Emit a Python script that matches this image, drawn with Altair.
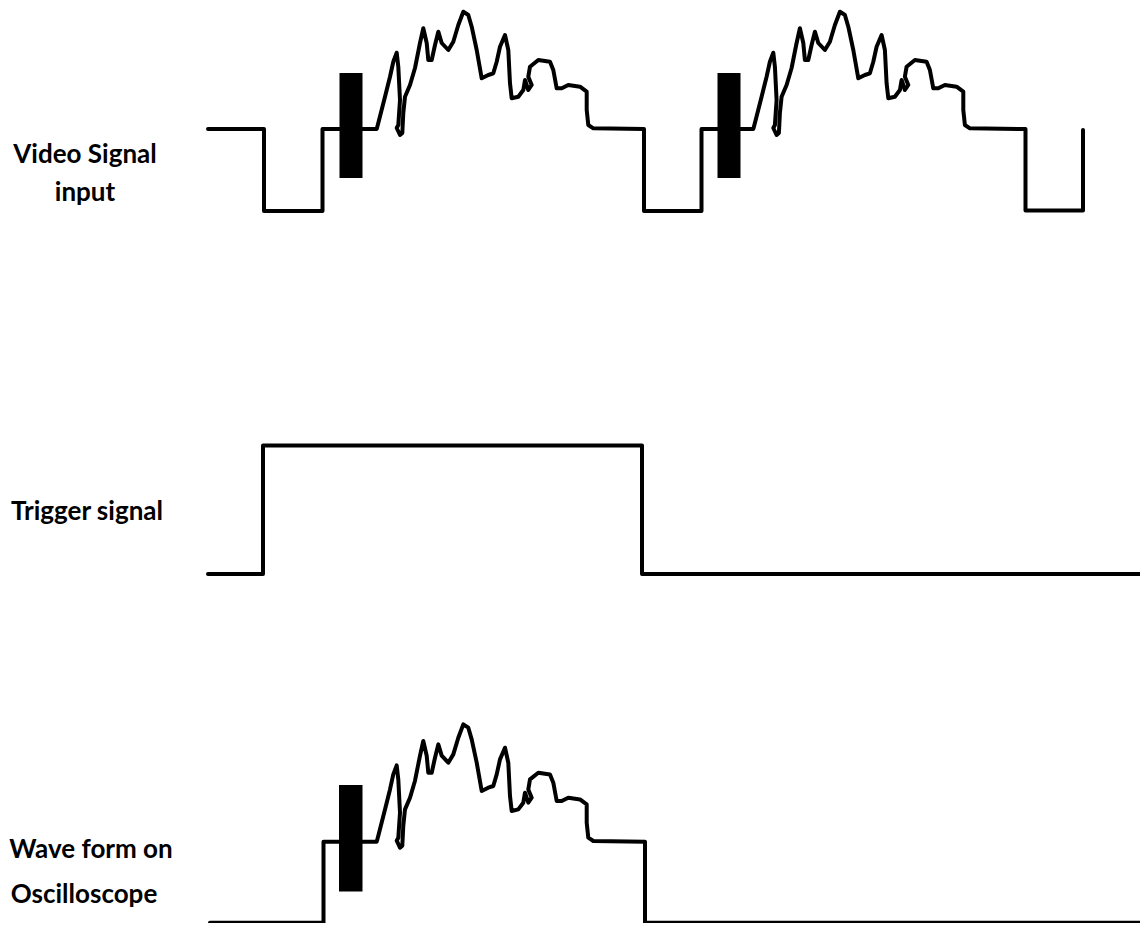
import altair as alt
import pandas as pd

# ---- values (x = time position, y = signal level, pixel units, down = lower) ----
# Video signal input: sync / blanking steps
video_pre_x = [208, 264, 264, 322.5, 322.5]
video_pre_y = [129, 129, 211, 211, 129]
video_mid_x = [644, 644, 701.5, 701.5]
video_mid_y = [129, 211, 211, 129]
video_end_x = [1025.5, 1025.5, 1083, 1083]
video_end_y = [129, 210.5, 210.5, 130]

# one line of picture content (as drawn after the first colour burst)
picture_x = [376.7, 378.3, 385, 390, 393.3, 396.7, 398.3, 400, 398.3, 396.7, 400, 402.3,
             403.3, 405, 410, 415, 420, 423.3, 426.7, 428.3, 431.7, 435, 438.3, 441.7,
             448.3, 453.3, 458.3, 463.3, 468.3, 471.7, 476.7, 481.7, 488.3, 493.3, 496.7,
             500, 505, 508.3, 510, 511.7, 518.3, 523.3, 525, 528.3, 531.7, 528.3, 530,
             538.3, 550, 553.3, 556.7, 561.7, 568.3, 580, 586.7, 586.7, 588.3, 593.3]
picture_y = [129, 123, 96.7, 76.7, 61.7, 52.7, 66.7, 100, 125, 128, 135, 133,
             113, 96.7, 85, 68, 43, 28.3, 43, 60, 60, 45, 31.7, 43,
             50, 41.7, 25, 11.7, 15, 26.7, 50, 78.3, 75, 73.3, 61.7,
             46.7, 35, 50, 83.3, 98.3, 96.7, 90, 80, 90, 85, 76.7, 66.7,
             60, 61.7, 70, 88.3, 88.3, 85, 86.7, 91.7, 110, 125, 128.3]
second_line_shift = 376.6      # second video line starts this much later
scope_level_shift = 712.7      # oscilloscope trace drawn this much lower

# Trigger signal
trigger_x = [208, 263, 263, 642, 642, 1148]
trigger_y = [574, 574, 445.5, 445.5, 574, 574]

# Wave form on oscilloscope: steps before / after the captured line
scope_pre_x = [210, 323.5, 323.5]
scope_pre_y = [922.7, 922.7, 841.7]
scope_post_x = [645, 645, 1148]
scope_post_y = [841.7, 922.7, 922.7]

# colour burst blocks
burst_x1 = [339.5, 717.5, 339]
burst_x2 = [362.5, 740.5, 362.5]
burst_y1 = [73, 73, 785]
burst_y2 = [178, 178, 891.5]

# labels
label_text = ["Video Signal", "input", "Trigger signal", "Wave form on", "Oscilloscope"]
label_x = [85, 85, 87, 91, 84]
label_y = [163, 201, 520, 858, 903]

# ---- build tables ----
rows = []
def add(trace, xs, ys, dx=0.0, dy=0.0):
    for xv, yv in zip(xs, ys):
        rows.append({"trace": trace, "i": len(rows), "x": xv + dx, "y": yv + dy})

add("video", video_pre_x, video_pre_y)
add("video", picture_x, picture_y)
add("video", video_mid_x, video_mid_y)
add("video", picture_x, picture_y, dx=second_line_shift)
add("video", video_end_x, video_end_y)
add("trigger", trigger_x, trigger_y)
add("scope", scope_pre_x, scope_pre_y)
add("scope", picture_x, picture_y, dy=scope_level_shift)
add("scope", scope_post_x, scope_post_y)
lines = pd.DataFrame(rows)

bursts = pd.DataFrame({"x1": burst_x1, "x2": burst_x2, "y1": burst_y1, "y2": burst_y2})
labels = pd.DataFrame({"text": label_text, "x": label_x, "y": label_y})

xs = alt.Scale(domain=[8, 1140], nice=False, zero=False)
ys = alt.Scale(domain=[8, 923], nice=False, zero=False, reverse=True)

line_layer = alt.Chart(lines).mark_line(
    color="black", strokeWidth=4, strokeJoin="round", strokeCap="round"
).encode(
    x=alt.X("x:Q", scale=xs, axis=None),
    y=alt.Y("y:Q", scale=ys, axis=None),
    detail="trace:N",
    order="i:Q",
)

burst_layer = alt.Chart(bursts).mark_rect(color="black").encode(
    x=alt.X("x1:Q", scale=xs, axis=None),
    x2="x2:Q",
    y=alt.Y("y1:Q", scale=ys, axis=None),
    y2="y2:Q",
)

text_layer = alt.Chart(labels).mark_text(
    font="Lato", fontSize=26, fontWeight="bold", color="black",
    align="center", baseline="alphabetic"
).encode(
    x=alt.X("x:Q", scale=xs, axis=None),
    y=alt.Y("y:Q", scale=ys, axis=None),
    text="text:N",
)

chart = alt.layer(line_layer, burst_layer, text_layer).properties(
    width=1132, height=915,
    autosize=alt.AutoSizeParams(type="none"),
    padding=0,
    background="white",
).configure_view(strokeWidth=0)

chart.save("out.html", embed_options={"renderer": "svg", "actions": False})
